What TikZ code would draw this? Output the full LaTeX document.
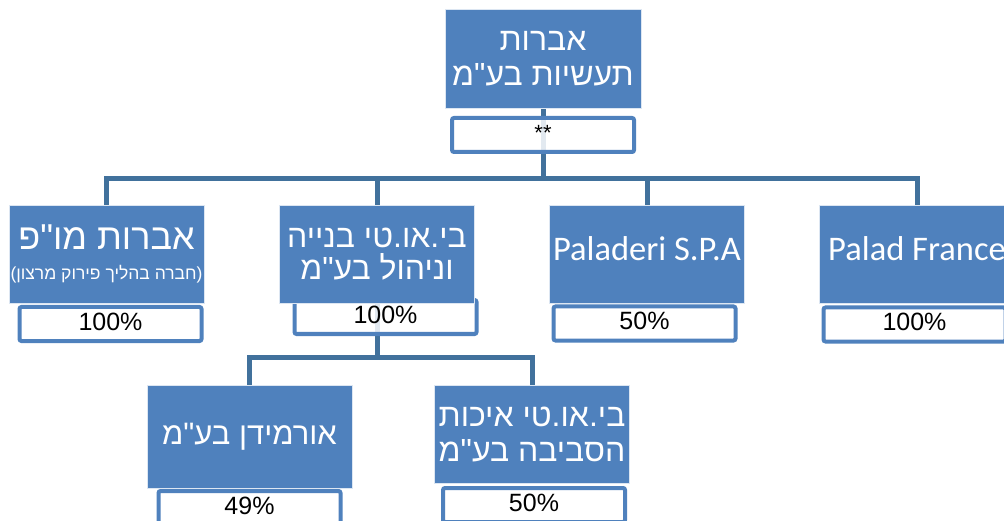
\documentclass[tikz,border=0pt]{standalone}
\usepackage{fontspec}
\setmainfont{Liberation Sans}
\newfontfamily\hebfont[Script=Hebrew]{Liberation Sans}
\newfontfamily\calfont{Carlito}
\TeXXeTstate=1
\usetikzlibrary{positioning,backgrounds}
\definecolor{boxblue}{HTML}{4F81BD}
\definecolor{lineblue}{HTML}{41719C}

\begin{document}
\begin{tikzpicture}[
      x=1pt,y=-1pt,
      unit/.style={rectangle,fill=boxblue,draw=white!80!boxblue,line width=0.8pt,text=white,
                   minimum width=195pt,minimum height=98pt,inner sep=0pt,align=center},
      share/.style={rectangle,rounded corners=2pt,draw=boxblue,line width=4pt,fill=white,
                    fill opacity=0.85,text opacity=1,minimum width=182pt,minimum height=34pt,
                    inner sep=0pt,text depth=5pt,font=\fontsize{25}{28}\selectfont},
      link/.style={draw=lineblue,line width=5pt}
  ]
  \useasboundingbox (0,0) rectangle (1004,521);
  \clip (0,0) rectangle (1004,521);

  % ===================== percentage boxes =====================
  \node[share,font=\fontsize{22}{26}\selectfont] (topshare) at (543,135) {**};
  \node[share] (mopshare) at (110.5,324) {100\%};
  \node[share] (bitshare) at (385.5,317) {100\%};
  \node[share] (palshare) at (644.5,323.5) {50\%};
  \node[share] (frshare) at (914.5,324.5) {100\%};
  \node[share] (ormshare) at (249.5,508) {49\%};
  \node[share] (ecoshare) at (534,505) {50\%};

  % ===================== parent company =====================
  \node[unit,minimum width=196pt,minimum height=99pt,font=\hebfont\fontsize{32}{35}\selectfont]
      (top) at (543,58.5) {\beginR אברות\endR\\\beginR תעשיות בע"מ\endR};

  % ===================== subsidiaries =====================
  \node[unit,font=\hebfont\fontsize{36}{30}\selectfont] (mop) at (106.5,254)
      {\beginR אברות מו"פ\endR\\{\fontsize{17.5}{20}\selectfont\beginR (חברה בהליך פירוק מרצון)\endR}};
  \node[unit,font=\hebfont\fontsize{32}{32}\selectfont] (bit) at (377,254)
      {\beginR בי.או.טי בנייה\endR\\\beginR וניהול בע"מ\endR};
  \node[unit,text depth=10pt,font=\calfont\fontsize{34.5}{38}\selectfont] (pal) at (647,254) {Paladeri S.P.A};
  \node[unit,text depth=10pt,font=\calfont\fontsize{34.5}{38}\selectfont] (fr) at (917,254) {Palad France};

  % ===================== second level =====================
  \node[unit,minimum width=205pt,minimum height=103pt,font=\hebfont\fontsize{31}{34}\selectfont]
      (orm) at (249.5,436.5) {\beginR אורמידן בע"מ\endR};
  \node[unit,font=\hebfont\fontsize{32}{35}\selectfont] (eco) at (532,434.5)
      {\beginR בי.או.טי איכות\endR\\\beginR הסביבה בע"מ\endR};

  % ===================== connectors =====================
  \begin{scope}[on background layer]
    \draw[link] (top.south) -- ++(0,70) coordinate (bus) -| (mop.north);
    \draw[link] (bus) -| (bit.north);
    \draw[link] (bus) -| (pal.north);
    \draw[link] (bus) -| (fr.north);
    \draw[link] (bit.south) -- ++(0,54) coordinate (subbus) -| (orm.north);
    \draw[link] (subbus) -| (eco.north);
  \end{scope}

\end{tikzpicture}
\end{document}
